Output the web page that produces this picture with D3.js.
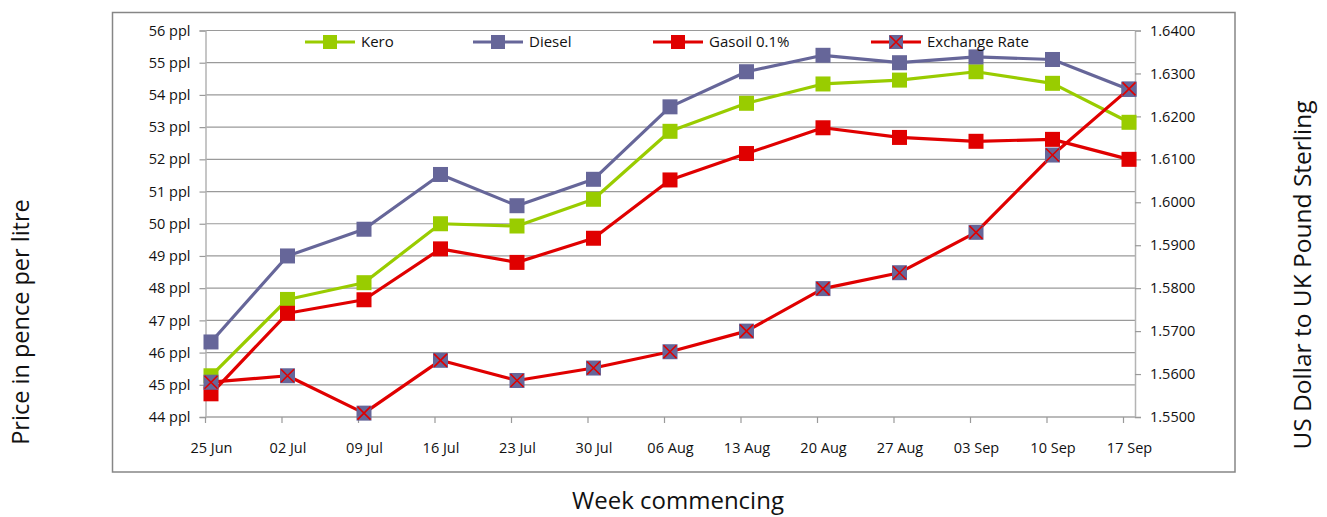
<!DOCTYPE html>
<html>
<head>
<meta charset="utf-8">
<script src="https://cdn.jsdelivr.net/npm/d3@7"></script>
<style>
  body { margin: 0; background: #fff; }
  svg { font-family: "Open Sans", sans-serif; }
</style>
</head>
<body>
<svg width="1327" height="517"></svg>
<script>
// data
const weeks = ["25 Jun", "02 Jul", "09 Jul", "16 Jul", "23 Jul", "30 Jul", "06 Aug",
               "13 Aug", "20 Aug", "27 Aug", "03 Sep", "10 Sep", "17 Sep"];
const kero = [45.28, 47.65, 48.17, 50.0, 49.93, 50.76, 52.87, 53.74, 54.34, 54.46, 54.72, 54.36, 53.15];
const diesel = [46.33, 49.0, 49.83, 51.53, 50.56, 51.38, 53.63, 54.72, 55.23, 55.0, 55.18, 55.1, 54.17];
const gasoil = [44.72, 47.22, 47.64, 49.22, 48.8, 49.55, 51.36, 52.18, 52.98, 52.68, 52.56, 52.62, 52.0];
const exchange = [1.5581, 1.5596, 1.5509, 1.5632, 1.5585, 1.5614, 1.5652, 1.5700, 1.5799,
                  1.5836, 1.5930, 1.6110, 1.6264];
const leftTicks = [44, 45, 46, 47, 48, 49, 50, 51, 52, 53, 54, 55, 56];
const rightTicks = [1.55, 1.56, 1.57, 1.58, 1.59, 1.60, 1.61, 1.62, 1.63, 1.64];

const svg = d3.select("svg");
const plotL = 205.5, plotR = 1135, plotT = 30.5, plotB = 417;

const x = d3.scalePoint().domain(weeks).range([211, 1129]);
const y = d3.scaleLinear().domain([44, 56]).range([plotB, plotT]);
const y2 = d3.scaleLinear().domain([1.55, 1.64]).range([plotB, plotT]);

// outer frame
svg.append("rect")
   .attr("x", 112.5).attr("y", 12.5)
   .attr("width", 1122.5).attr("height", 459.5)
   .attr("fill", "#fff")
   .attr("stroke", "#868686")
   .attr("stroke-width", 1.5);

// gridlines
svg.append("g")
   .selectAll("line")
   .data(leftTicks)
   .enter()
   .append("line")
   .attr("x1", plotL).attr("x2", plotR)
   .attr("y1", d => y(d)).attr("y2", d => y(d))
   .attr("stroke", "#9a9a9a")
   .attr("stroke-width", 1.2);

// axes
const yAxis = d3.axisLeft(y).tickValues(leftTicks).tickSize(6).tickPadding(9)
   .tickFormat(d => d + " ppl");
const y2Axis = d3.axisRight(y2).tickValues(rightTicks).tickSize(6).tickPadding(9)
   .tickFormat(d3.format(".4f"));
const xAxis = d3.axisBottom(x).tickSize(6).tickPadding(20);

const gy = svg.append("g").attr("transform", "translate(" + plotL + ",0)").call(yAxis);
const gy2 = svg.append("g").attr("transform", "translate(" + plotR + ",0)").call(y2Axis);
const gx = svg.append("g").attr("transform", "translate(0," + plotB + ")").call(xAxis);

// tick marks sit a little left of the points
gx.selectAll(".tick line").attr("x1", -6).attr("x2", -6);
gx.select(".domain").attr("d", "M" + (plotL - 0.5) + ",0H" + plotR);

[gy, gy2, gx].forEach(g => {
  g.select(".domain").attr("stroke", "#b4b4b4").attr("stroke-width", 1.5);
  g.selectAll(".tick line").attr("stroke", "#9a9a9a").attr("stroke-width", 1.2);
  g.selectAll("text").attr("font-size", 14.5).attr("fill", "#111")
   .attr("font-family", "Open Sans, sans-serif");
});

// series
const series = [
  { name: "Kero", values: kero, scale: y, color: "#99cc00", fill: "#99cc00", cross: false },
  { name: "Diesel", values: diesel, scale: y, color: "#666699", fill: "#666699", cross: false },
  { name: "Gasoil 0.1%", values: gasoil, scale: y, color: "#e00000", fill: "#e00000", cross: false },
  { name: "Exchange Rate", values: exchange, scale: y2, color: "#e00000", fill: "#666699", cross: true }
];

function marker(g, cx, cy, s, sz) {
  g.append("rect")
   .attr("x", cx - sz / 2).attr("y", cy - sz / 2)
   .attr("width", sz).attr("height", sz)
   .attr("fill", s.fill);
  if (s.cross) {
    const h = sz / 2 - 1;
    g.append("path")
     .attr("d", "M" + (cx - h) + "," + (cy - h) + "L" + (cx + h) + "," + (cy + h) +
                "M" + (cx + h) + "," + (cy - h) + "L" + (cx - h) + "," + (cy + h))
     .attr("stroke", "#e00000")
     .attr("stroke-width", 1.6)
     .attr("fill", "none");
  }
}

series.forEach(s => {
  const line = d3.line()
     .x((d, i) => x(weeks[i]))
     .y(d => s.scale(d));
  const g = svg.append("g");
  g.append("path")
   .datum(s.values)
   .attr("d", line)
   .attr("fill", "none")
   .attr("stroke", s.color)
   .attr("stroke-width", 3.2)
   .attr("stroke-linejoin", "round");
  s.values.forEach((v, i) => marker(g, x(weeks[i]), s.scale(v), s, 15));
});

// legend
const legendX = [305, 473, 653, 871];
const legend = svg.append("g");
series.forEach((s, i) => {
  const lx = legendX[i], ly = 42;
  legend.append("line")
     .attr("x1", lx).attr("x2", lx + 50)
     .attr("y1", ly).attr("y2", ly)
     .attr("stroke", s.color)
     .attr("stroke-width", 3.2);
  marker(legend, lx + 25, ly, s, 14);
  legend.append("text")
     .attr("x", lx + 56).attr("y", ly)
     .attr("dy", "0.35em")
     .attr("font-size", 15)
     .attr("fill", "#111")
     .text(s.name);
});

// axis titles
svg.append("text")
   .attr("transform", "translate(29,322) rotate(-90)")
   .attr("text-anchor", "middle")
   .attr("font-size", 23.5)
   .attr("fill", "#111")
   .text("Price in pence per litre");

svg.append("text")
   .attr("transform", "translate(1311,275) rotate(-90)")
   .attr("text-anchor", "middle")
   .attr("font-size", 24.5)
   .attr("fill", "#111")
   .text("US Dollar to UK Pound Sterling");

svg.append("text")
   .attr("x", 678).attr("y", 509)
   .attr("text-anchor", "middle")
   .attr("font-size", 24)
   .attr("fill", "#111")
   .text("Week commencing");
</script>
</body>
</html>
